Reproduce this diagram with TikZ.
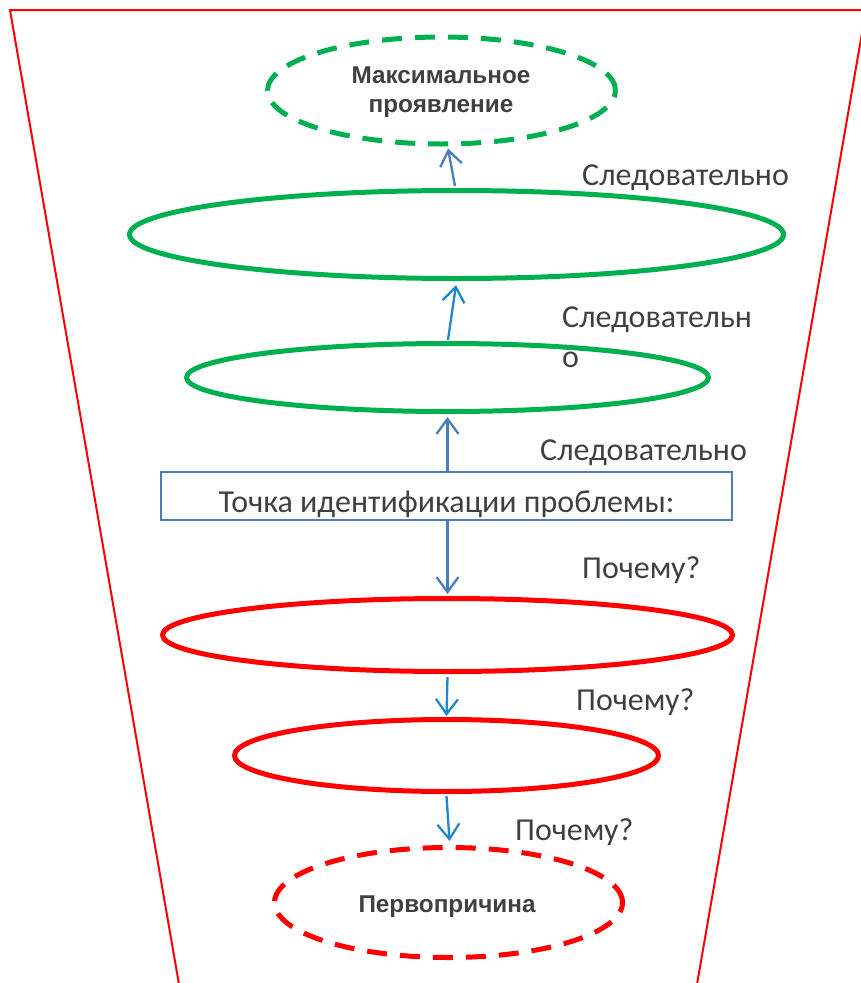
\documentclass[tikz,border=0pt]{standalone}
\usepackage{fontspec}
\setmainfont{Carlito}
\newfontfamily\headfont{Liberation Sans}
\usetikzlibrary{arrows.meta,shapes.geometric}

\definecolor{ogreen}{HTML}{00B050}
\definecolor{ored}{HTML}{FF0000}
\definecolor{dgray}{HTML}{404040}
\definecolor{steelblue}{HTML}{4A7EBB}
\definecolor{brightblue}{HTML}{1F87D0}

\tikzset{
  oval/.style={ellipse, line width=5pt, inner sep=0pt},
  goal/.style={oval, draw=ogreen},
  cause/.style={oval, draw=ored},
  dashoval/.style={dash pattern=on 20pt off 13pt},
  caption/.style={text=dgray, font=\fontsize{32}{40}\selectfont, inner sep=0pt},
  boldcap/.style={text=dgray, font=\headfont\bfseries\fontsize{24.3}{29}\selectfont,
                  inner sep=0pt, align=center},
  link/.style={-{Straight Barb[length=15pt,width=22pt]}, line width=2.3pt},
}

\begin{document}
\begin{tikzpicture}[x=1pt,y=-1pt]
\useasboundingbox (0,0) rectangle (861,983);

% funnel outline
\draw[ored, line width=2pt, line join=miter]
  (180,990) -- (10,10) -- (866,10) -- (696,990);

% effects (top half)
\node[goal, dashoval, minimum width=348pt, minimum height=107pt] (top) at (441.5,90.5) {};
\node[boldcap, anchor=base] (toptext) at (441,112) {Максимальное\\проявление};
\node[goal, minimum width=654pt, minimum height=88pt] (g2) at (456.5,234.5) {};
\node[goal, minimum width=522pt, minimum height=68pt] (g1) at (447.5,377.5) {};

% problem statement
\node[draw=steelblue, line width=1.4pt, minimum width=571pt, minimum height=48pt,
      inner sep=0pt] (box) at (446.5,496) {};
\node[caption, anchor=base] (boxtext) at (446.5,512) {Точка идентификации проблемы:};

% causes (bottom half)
\node[cause, minimum width=570pt, minimum height=73pt] (r1) at (447.5,635) {};
\node[cause, minimum width=424pt, minimum height=72pt] (r2) at (446.5,755.5) {};
\node[cause, dashoval, minimum width=348pt, minimum height=110pt] (root) at (448.5,902.5) {};
\node[boldcap, anchor=base] (roottext) at (447,912) {Первопричина};

% connectors
\draw[link, steelblue] ([xshift=-1.5pt,yshift=2pt]g2.north) -- ([xshift=6.5pt,yshift=-2pt]top.south);
\draw[link, brightblue] ([xshift=0.5pt,yshift=1pt]g1.north) -- ([xshift=-0.5pt,yshift=-4pt]g2.south);
\draw[link, steelblue] ([xshift=1pt]box.north) -- ([xshift=0pt,yshift=-3pt]g1.south);
\draw[link, steelblue] ([xshift=1pt]box.south) -- ([xshift=0pt,yshift=2pt]r1.north);
\draw[link, brightblue] ([yshift=-3pt]r1.south) -- ([yshift=1pt]r2.north);
\draw[link, brightblue] ([yshift=-2pt]r2.south) -- ([xshift=1pt,yshift=4pt]root.north);

% step labels
\node[caption, anchor=base west] (l1) at (582,185) {Следовательно};
\node[caption, anchor=base west, align=left] (l2) at (562,367) {Следовательн\\о};
\node[caption, anchor=base west] (l3) at (540,460) {Следовательно};
\node[caption, anchor=base west] (l4) at (582,578) {Почему?};
\node[caption, anchor=base west] (l5) at (576,710) {Почему?};
\node[caption, anchor=base west] (l6) at (515,840) {Почему?};
\end{tikzpicture}
\end{document}
